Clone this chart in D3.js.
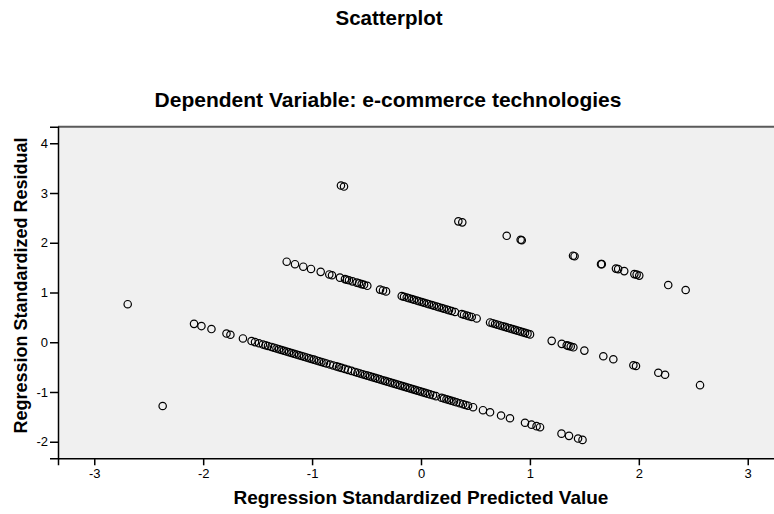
<!DOCTYPE html>
<html>
<head>
<meta charset="utf-8">
<script src="https://cdn.jsdelivr.net/npm/d3@7"></script>
<style>
  html, body { margin: 0; padding: 0; background: #ffffff; }
  svg { display: block; }
  text { font-family: "Liberation Sans", Arial, sans-serif; fill: #000; }
</style>
</head>
<body>
<svg id="chart" width="774" height="514"></svg>
<script>
// ---- Data ----
const chartTitle = "Scatterplot";
const chartSubtitle = "Dependent Variable: e-commerce technologies";
const xAxisTitle = "Regression Standardized Predicted Value";
const yAxisTitle = "Regression Standardized Residual";

const xTickValues = [-3, -2, -1, 0, 1, 2, 3];
const yTickValues = [-2, -1, 0, 1, 2, 3, 4];

// [predicted, residual]
const upperBand = [
  [-0.735, 3.15], [-0.707, 3.13], [0.343, 2.43], [0.379, 2.41], [0.787, 2.14],
  [0.915, 2.06], [0.925, 2.05], [1.396, 1.74], [1.41, 1.73], [1.653, 1.57],
  [1.66, 1.57], [1.79, 1.48], [1.81, 1.47], [1.866, 1.43], [1.959, 1.37],
  [1.98, 1.36], [2.004, 1.34], [2.27, 1.15], [2.43, 1.05]
];

const middleBand = [
  [-1.233, 1.619], [-1.157, 1.569], [-1.081, 1.519], [-1.010, 1.473], [-0.921, 1.415],
  [-0.842, 1.363], [-0.817, 1.347], [-0.744, 1.299], [-0.698, 1.269], [-0.680, 1.257],
  [-0.661, 1.245], [-0.629, 1.224], [-0.590, 1.198], [-0.569, 1.185], [-0.545, 1.169],
  [-0.523, 1.155], [-0.493, 1.135], [-0.376, 1.058], [-0.349, 1.041], [-0.321, 1.022],
  [-0.177, 0.928], [-0.156, 0.915], [-0.131, 0.898], [-0.110, 0.884], [-0.085, 0.868],
  [-0.064, 0.854], [-0.039, 0.838], [-0.018, 0.824], [0.006, 0.808], [0.028, 0.794],
  [0.052, 0.778], [0.073, 0.765], [0.098, 0.748], [0.119, 0.735], [0.144, 0.718],
  [0.165, 0.704], [0.190, 0.688], [0.211, 0.674], [0.236, 0.658], [0.257, 0.644],
  [0.282, 0.628], [0.312, 0.608], [0.374, 0.568], [0.395, 0.554], [0.420, 0.538],
  [0.441, 0.524], [0.466, 0.508], [0.511, 0.478], [0.634, 0.398], [0.657, 0.383],
  [0.680, 0.368], [0.702, 0.353], [0.725, 0.338], [0.748, 0.323], [0.771, 0.308],
  [0.794, 0.293], [0.817, 0.278], [0.840, 0.263], [0.863, 0.248], [0.886, 0.233],
  [0.909, 0.218], [0.932, 0.203], [0.955, 0.188], [0.978, 0.173], [1.001, 0.158],
  [1.200, 0.028], [1.292, -0.032], [1.338, -0.062], [1.354, -0.073], [1.375, -0.087],
  [1.399, -0.102], [1.500, -0.168], [1.674, -0.282], [1.766, -0.342], [1.950, -0.463],
  [1.974, -0.478], [2.179, -0.613], [2.241, -0.653], [2.562, -0.863]
];

const lowerBand = [
  [-2.693, 0.765], [-2.084, 0.370], [-2.016, 0.325], [-1.924, 0.265], [-1.786, 0.175],
  [-1.750, 0.151], [-1.635, 0.076], [-1.556, 0.024], [-1.524, 0.003], [-1.488, -0.020],
  [-1.451, -0.044], [-1.428, -0.060], [-1.405, -0.074], [-1.373, -0.095], [-1.350, -0.110],
  [-1.327, -0.125], [-1.304, -0.141], [-1.281, -0.156], [-1.258, -0.171], [-1.235, -0.186],
  [-1.212, -0.201], [-1.189, -0.216], [-1.166, -0.231], [-1.143, -0.246], [-1.120, -0.261],
  [-1.097, -0.276], [-1.074, -0.291], [-1.051, -0.306], [-1.028, -0.321], [-1.006, -0.336],
  [-0.983, -0.350], [-0.960, -0.366], [-0.937, -0.381], [-0.914, -0.396], [-0.891, -0.411],
  [-0.868, -0.426], [-0.836, -0.447], [-0.806, -0.466], [-0.776, -0.486], [-0.753, -0.501],
  [-0.730, -0.516], [-0.700, -0.536], [-0.670, -0.555], [-0.638, -0.576], [-0.606, -0.597],
  [-0.583, -0.612], [-0.560, -0.627], [-0.537, -0.642], [-0.514, -0.657], [-0.491, -0.672],
  [-0.468, -0.687], [-0.445, -0.702], [-0.422, -0.717], [-0.399, -0.732], [-0.376, -0.747],
  [-0.353, -0.763], [-0.331, -0.777], [-0.308, -0.792], [-0.285, -0.807], [-0.262, -0.822],
  [-0.239, -0.837], [-0.216, -0.852], [-0.193, -0.867], [-0.170, -0.882], [-0.147, -0.897],
  [-0.124, -0.912], [-0.101, -0.927], [-0.078, -0.942], [-0.055, -0.957], [-0.032, -0.972],
  [-0.009, -0.987], [0.014, -1.003], [0.037, -1.018], [0.060, -1.033], [0.083, -1.048],
  [0.110, -1.065], [0.138, -1.084], [0.188, -1.116], [0.211, -1.131], [0.234, -1.146],
  [0.257, -1.162], [0.280, -1.177], [0.303, -1.192], [0.326, -1.207], [0.356, -1.226],
  [0.386, -1.246], [0.409, -1.261], [0.432, -1.276], [0.478, -1.306], [0.569, -1.366],
  [0.634, -1.408], [0.735, -1.474], [0.817, -1.528], [0.955, -1.618], [1.015, -1.657],
  [1.061, -1.687], [1.093, -1.708], [1.290, -1.837], [1.359, -1.882], [1.442, -1.936],
  [1.483, -1.963]
];

const bottomBand = [
  [-2.372, -1.282]
];

// ---- Drawing ----
const svg = d3.select("#chart");
const plot = { left: 58, right: 784, top: 126.7, bottom: 458.3 };

const x = d3.scaleLinear().domain([-3.333, 3.333]).range([plot.left, plot.right]);
const y = d3.scaleLinear().domain([-2.333, 4.333]).range([plot.bottom, plot.top]);

// titles
svg.append("text")
  .attr("x", 389).attr("y", 25)
  .attr("text-anchor", "middle")
  .style("font-weight", "bold").style("font-size", "20.5px")
  .text(chartTitle);

svg.append("text")
  .attr("x", 388).attr("y", 107)
  .attr("text-anchor", "middle")
  .style("font-weight", "bold").style("font-size", "21px")
  .text(chartSubtitle);

// plot background
svg.append("rect")
  .attr("x", plot.left).attr("y", plot.top)
  .attr("width", plot.right - plot.left)
  .attr("height", plot.bottom - plot.top)
  .attr("fill", "#f0f0f0");

svg.append("line")
  .attr("x1", plot.left).attr("x2", plot.right)
  .attr("y1", plot.top).attr("y2", plot.top)
  .attr("stroke", "#5a5a5a").attr("stroke-width", 2);

// points
const allPoints = [].concat(upperBand, middleBand, lowerBand, bottomBand);
svg.append("g")
  .selectAll("circle")
  .data(allPoints)
  .join("circle")
  .attr("cx", d => x(d[0]))
  .attr("cy", d => y(d[1]))
  .attr("r", 3.7)
  .attr("fill", "none")
  .attr("stroke", "#000")
  .attr("stroke-width", 1.2);

// axes
const xAxis = d3.axisBottom(x).tickValues(xTickValues).tickSize(7).tickPadding(3)
  .tickFormat(d3.format("d"));
const gx = svg.append("g").attr("transform", `translate(0,${plot.bottom})`).call(xAxis);
gx.select(".domain").attr("stroke", "#000").attr("stroke-width", 1.5);
gx.selectAll(".tick line").attr("stroke", "#000").attr("stroke-width", 1.5);
gx.selectAll(".tick text")
  .style("font-size", "13px")
  .style("font-family", "'Liberation Sans', Arial, sans-serif")
  .text(d => d < 0 ? "-" + Math.abs(d) : d);

const yAxis = d3.axisLeft(y).tickValues(yTickValues).tickSize(8).tickPadding(2)
  .tickFormat(d3.format("d"));
const gy = svg.append("g").attr("transform", `translate(${plot.left},0)`).call(yAxis);
gy.select(".domain").attr("stroke", "#000").attr("stroke-width", 1.5);
gy.selectAll(".tick line").attr("stroke", "#000").attr("stroke-width", 1.5);
gy.selectAll(".tick text")
  .style("font-size", "13px")
  .style("font-family", "'Liberation Sans', Arial, sans-serif")
  .text(d => d < 0 ? "-" + Math.abs(d) : d);

// axis titles
svg.append("text")
  .attr("x", 421).attr("y", 504)
  .attr("text-anchor", "middle")
  .style("font-weight", "bold").style("font-size", "19px")
  .text(xAxisTitle);

svg.append("text")
  .attr("transform", `translate(27,${(plot.top + plot.bottom) / 2 - 7}) rotate(-90)`)
  .attr("text-anchor", "middle")
  .style("font-weight", "bold").style("font-size", "18px")
  .text(yAxisTitle);
</script>
</body>
</html>
